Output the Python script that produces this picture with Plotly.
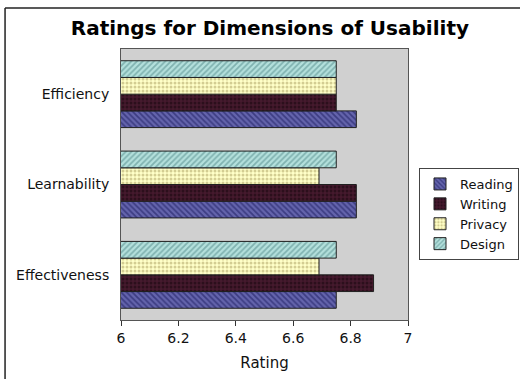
import plotly.graph_objects as go

# Usability dimensions (bottom to top) and ratings per area
dimensions = ["Effectiveness", "Learnability", "Efficiency"]
reading = [6.75, 6.82, 6.82]
writing = [6.88, 6.82, 6.75]
privacy = [6.69, 6.69, 6.75]
design = [6.75, 6.75, 6.75]

x_ticks = [6, 6.2, 6.4, 6.6, 6.8, 7]
x_tick_labels = ["6", "6.2", "6.4", "6.6", "6.8", "7"]

series = [
    ("Reading", reading, "#6464ac", "#16165a", "\\"),
    ("Writing", writing, "#45192d", "#14060c", "."),
    ("Privacy", privacy, "#ffffc8", "#a89c5c", "."),
    ("Design", design, "#b4e0dc", "#4c8484", "/"),
]

fig = go.Figure()
for name, vals, bg, fg, shape in series:
    fig.add_trace(go.Bar(
        name=name,
        y=dimensions,
        x=vals,
        base=0,
        orientation="h",
        marker=dict(
            color=bg,
            line=dict(color="#202020", width=1),
            pattern=dict(shape=shape, fgcolor=fg, bgcolor=bg, size=4, solidity=0.45),
        ),
    ))

font_family = "DejaVu Sans, Verdana, sans-serif"

fig.update_layout(
    width=520,
    height=379,
    margin=dict(l=121, r=112, t=49, b=59, autoexpand=False),
    paper_bgcolor="white",
    plot_bgcolor="#d0d0d0",
    barmode="group",
    bargap=0.26,
    bargroupgap=0,
    font=dict(family=font_family, color="#111111", size=14),
    title=dict(
        text="<b>Ratings for Dimensions of Usability</b>",
        x=0.519, xref="container", xanchor="center",
        y=0.926, yref="container", yanchor="middle",
        font=dict(size=20, family=font_family, color="#000000"),
    ),
    xaxis=dict(
        range=[6, 7],
        tickvals=x_ticks,
        ticktext=x_tick_labels,
        ticks="outside",
        ticklen=5,
        tickcolor="#333333",
        showgrid=False,
        zeroline=False,
        showline=True,
        linecolor="#555555",
        mirror=True,
        tickfont=dict(size=14),
        title=dict(text="Rating", font=dict(size=15), standoff=12),
    ),
    yaxis=dict(
        categoryorder="array",
        categoryarray=dimensions,
        showgrid=False,
        showline=True,
        linecolor="#555555",
        mirror=True,
        ticks="",
        ticklabelstandoff=8,
        tickfont=dict(size=14),
    ),
    legend=dict(
        xref="container", x=419 / 520, xanchor="left",
        yref="container", y=1 - 168 / 379, yanchor="top",
        bordercolor="#444444",
        borderwidth=1,
        bgcolor="white",
        font=dict(size=13),
        traceorder="normal",
        itemwidth=30,
        tracegroupgap=0,
    ),
    showlegend=True,
    shapes=[
        dict(type="line", xref="paper", yref="paper",
             x0=-0.404, x1=-0.404, y0=1.151, y1=-0.3,
             line=dict(color="#222222", width=1.5)),
        dict(type="line", xref="paper", yref="paper",
             x0=-0.404, x1=1.5, y0=1.151, y1=1.151,
             line=dict(color="#222222", width=1.5)),
    ],
)

fig.write_html("out.html")
